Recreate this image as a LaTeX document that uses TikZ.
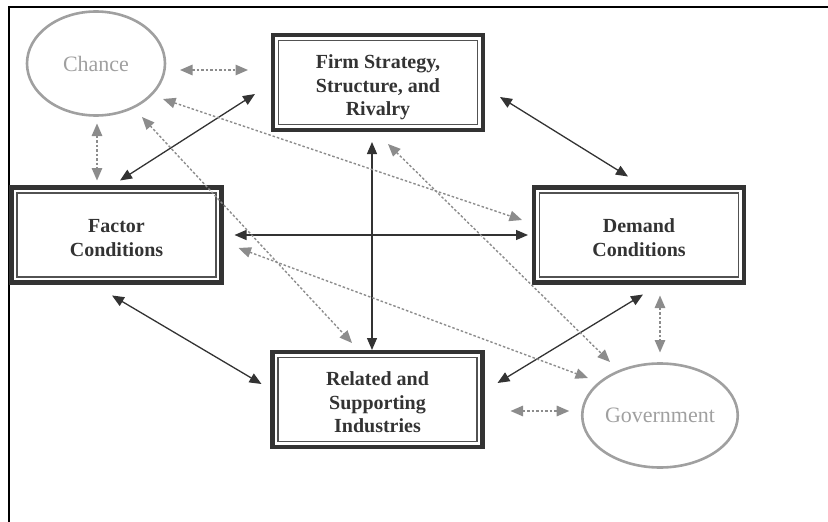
\documentclass[tikz,border=0pt]{standalone}
\usepackage{fontspec}
\setmainfont{Liberation Serif}
\usetikzlibrary{arrows.meta,shapes.geometric}
\definecolor{ink}{HTML}{333333}
\definecolor{mid}{HTML}{8C8C8C}
\definecolor{soft}{HTML}{A0A0A0}

\tikzset{
  forcebox/.style={draw=ink, line width=4.5pt, minimum width=210pt, minimum height=95pt,
    inner sep=0pt, outer sep=0pt, align=center,
    font=\fontsize{20}{23.5}\selectfont\bfseries, text=ink},
  innerrule/.style={draw=ink!85, line width=1.4pt},
  outside/.style={ellipse, draw=soft, line width=2.6pt, minimum width=138pt,
    minimum height=104pt, inner sep=0pt, outer sep=0pt,
    font=\fontsize{22}{26}\selectfont, text=soft},
  link/.style={draw=ink, line width=1.3pt, {Triangle[length=12pt,width=10pt]}-{Triangle[length=12pt,width=10pt]}},
  influence/.style={draw=mid, line width=1.4pt, dash pattern=on 2.5pt off 2pt,
    {Triangle[length=12.5pt,width=10.5pt]}-{Triangle[length=12.5pt,width=10.5pt]}},
  frame/.style={draw=black, line width=2.5pt},
}

\begin{document}
\begin{tikzpicture}[x=1pt,y=-1pt]
  \useasboundingbox (0,0) rectangle (828,522);

  % open frame along the top and left edges
  \coordinate (ftop) at (828,7);
  \coordinate (fcorner) at (9,7);
  \coordinate (fbottom) at (9,522);
  \draw[frame] (ftop) -- (fcorner) -- (fbottom);

  % the four determinants (the struts drop each text block a little)
  \node[forcebox] (firm)    at (378,82.5)  {\rule{0pt}{24pt}Firm Strategy,\\Structure, and\\Rivalry};
  \node[forcebox] (factor)  at (116.5,235) {\rule{0pt}{19.5pt}Factor\\Conditions};
  \node[forcebox] (demand)  at (639,235)   {\rule{0pt}{19.5pt}Demand\\Conditions};
  \node[forcebox] (related) at (377.5,399.5) {\rule{0pt}{19.5pt}Related and\\Supporting\\Industries};
  \foreach \n in {firm,factor,demand,related}
    \draw[innerrule] ([shift={(5.5,5.5)}]\n.north west) rectangle ([shift={(-5.5,-5.5)}]\n.south east);

  % the two outside influences
  \node[outside] (chance) at (96,63.5)  {Chance};
  \node[outside] (gov)    at (660,415.5) {Government};

  % links between the determinants
  \draw[link] ([shift={(3.5,-7)}]factor.north) -- ([shift={(-18,11.5)}]firm.west);
  \draw[link] ([shift={(17,14.5)}]firm.east) -- ([shift={(-11,-11)}]demand.north);
  \draw[link] ([shift={(-6,12)}]firm.south) -- ([shift={(-5.5,-2)}]related.north);
  \draw[link] ([shift={(13,0)}]factor.east) -- ([shift={(-6,0)}]demand.west);
  \draw[link] ([shift={(-4.5,13)}]factor.south) -- ([shift={(-11,-15.5)}]related.west);
  \draw[link] ([shift={(15,-16.5)}]related.east) -- ([shift={(4,12)}]demand.south);

  % chance
  \draw[influence] ([shift={(15,6.5)}]chance.east) -- ([shift={(-25,-12.5)}]firm.west);
  \draw[influence] ([shift={(1,8)}]chance.south) -- ([shift={(-19.5,-7)}]factor.north);
  \draw[influence] ([shift={(67,35.5)}]chance.center) -- ([shift={(-12,-15)}]demand.west);
  \draw[influence] ([shift={(46,53.5)}]chance.center) -- ([shift={(-25.5,-9)}]related.north);

  % government
  \draw[influence] ([shift={(10,14)}]firm.south) -- ([shift={(-50,-53.5)}]gov.center);
  \draw[influence] ([shift={(17,13)}]factor.east) -- ([shift={(-72,-37.5)}]gov.center);
  \draw[influence] ([shift={(21,13)}]demand.south) -- ([shift={(0,-11)}]gov.north);
  \draw[influence] ([shift={(28,11.5)}]related.east) -- ([shift={(-13,-4.5)}]gov.west);
\end{tikzpicture}
\end{document}
